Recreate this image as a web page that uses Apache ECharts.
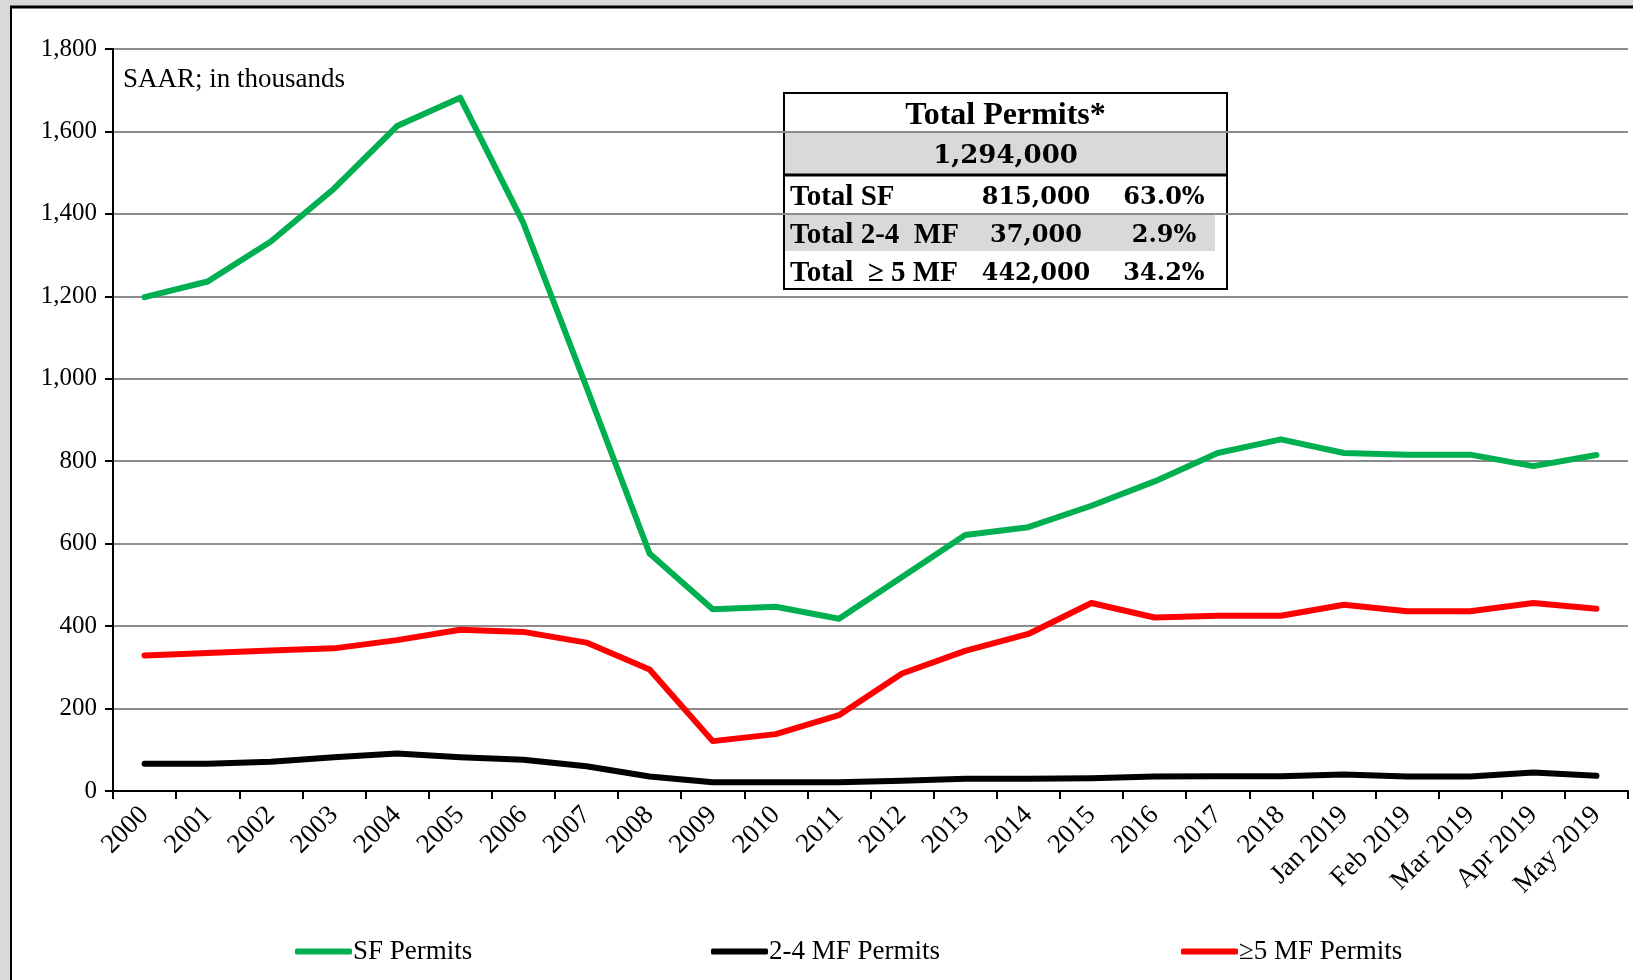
<!DOCTYPE html>
<html>
<head>
<meta charset="utf-8">
<script src="https://cdn.jsdelivr.net/npm/echarts@6/dist/echarts.min.js"></script>
<style>
html, body { margin: 0; padding: 0; background: #d9d9d9; }
#chart { width: 1633px; height: 980px; }
</style>
</head>
<body>
<div id="chart"></div>
<script>
// permits, SAAR, thousands
var categories = ['2000', '2001', '2002', '2003', '2004', '2005', '2006', '2007', '2008', '2009',
    '2010', '2011', '2012', '2013', '2014', '2015', '2016', '2017', '2018',
    'Jan 2019', 'Feb 2019', 'Mar 2019', 'Apr 2019', 'May 2019'];
var sfPermits = [1198, 1236, 1333, 1461, 1613, 1682, 1378, 980, 576, 441,
    447, 418, 519, 621, 640, 692, 751, 820, 853, 820, 816, 816, 788, 815];
var mf24Permits = [66, 66, 71, 82, 91, 82, 76, 60, 35, 21,
    21, 21, 25, 30, 30, 31, 35, 36, 36, 40, 35, 35, 45, 37];
var mf5Permits = [329, 335, 341, 346, 366, 391, 386, 360, 295, 121,
    138, 184, 285, 340, 381, 456, 421, 425, 425, 452, 436, 436, 456, 442];
var yMin = 0, yMax = 1800, yStep = 200;

var tableTitle = 'Total Permits*';
var tableTotal = '1,294,000';
var tableLabels = ['Total SF', 'Total 2-4  MF', 'Total  \u2265 5 MF'];
var tableCounts = ['815,000', '37,000', '442,000'];
var tableShares = ['63.0%', '2.9%', '34.2%'];

var serif = '"Liberation Serif", "Times New Roman", serif';
var wide = '"DejaVu Serif", serif';

var chart = echarts.init(document.getElementById('chart'));

function commas(v) {
    return String(v).replace(/\B(?=(\d{3})+(?!\d))/g, ',');
}

// table box drawn with graphic elements
var tx = 784, ty = 93, tw = 443;
var rowTop = [93, 132, 175, 213, 251, 289];
var tableEls = [];
tableEls.push({ type: 'rect', shape: { x: tx, y: ty, width: tw, height: 196 }, style: { fill: '#fff' } });
tableEls.push({ type: 'rect', shape: { x: tx, y: rowTop[1], width: tw, height: rowTop[2] - rowTop[1] }, style: { fill: '#d9d9d9' } });
tableEls.push({ type: 'rect', shape: { x: tx, y: rowTop[3], width: tw - 12, height: rowTop[4] - rowTop[3] }, style: { fill: '#d9d9d9' } });
tableEls.push({ type: 'rect', shape: { x: tx, y: ty, width: tw, height: 196 }, style: { fill: null, stroke: '#000', lineWidth: 2 } });
tableEls.push({ type: 'line', shape: { x1: tx, y1: rowTop[1], x2: tx + tw, y2: rowTop[1] }, style: { stroke: '#000', lineWidth: 2 } });
tableEls.push({ type: 'line', shape: { x1: tx, y1: rowTop[2], x2: tx + tw, y2: rowTop[2] }, style: { stroke: '#000', lineWidth: 3 } });
tableEls.push({ type: 'text', x: tx + tw / 2, y: 116, style: { text: tableTitle, font: 'bold 32px ' + serif, fill: '#000', align: 'center', verticalAlign: 'middle' } });
tableEls.push({ type: 'text', x: tx + tw / 2, y: 156, style: { text: tableTotal, font: 'bold 26px ' + wide, fill: '#000', align: 'center', verticalAlign: 'middle' } });
for (var i = 0; i < tableLabels.length; i++) {
    var cy = (rowTop[i + 2] + rowTop[i + 3]) / 2 + 4;
    tableEls.push({ type: 'text', x: 790, y: cy, style: { text: tableLabels[i], font: 'bold 29px ' + serif, fill: '#000', align: 'left', verticalAlign: 'middle' } });
    tableEls.push({ type: 'text', x: 1036, y: cy, style: { text: tableCounts[i], font: 'bold 24px ' + wide, fill: '#000', align: 'center', verticalAlign: 'middle' } });
    tableEls.push({ type: 'text', x: 1164, y: cy, style: { text: tableShares[i], font: 'bold 24px ' + wide, fill: '#000', align: 'center', verticalAlign: 'middle' } });
}

var option = {
    backgroundColor: '#fff',
    animation: false,
    textStyle: { fontFamily: serif, color: '#000' },
    grid: { left: 113, right: 5, top: 49, bottom: 189, containLabel: false },
    legend: [
        { data: ['SF Permits'], left: 290, top: 933 },
        { data: ['2-4 MF Permits'], left: 706, top: 933 },
        { data: ['\u22655 MF Permits'], left: 1176, top: 933 }
    ].map(function (l) {
        l.icon = 'roundRect';
        l.itemWidth = 57;
        l.itemHeight = 6;
        l.itemGap = 4;
        l.textStyle = { fontFamily: serif, fontSize: 27, color: '#000', padding: [0, 0, 0, -4] };
        return l;
    }),
    xAxis: {
        type: 'category',
        data: categories,
        boundaryGap: true,
        axisLine: { lineStyle: { color: '#000', width: 2 } },
        axisTick: { show: true, length: 8, lineStyle: { color: '#000', width: 2 } },
        axisLabel: { rotate: 45, margin: 20, fontSize: 27, fontFamily: serif, color: '#000', interval: 0 },
        splitLine: { show: false }
    },
    yAxis: {
        type: 'value',
        min: yMin, max: yMax, interval: yStep,
        axisLine: { show: true, lineStyle: { color: '#000', width: 2 } },
        axisTick: { show: true, length: 8, inside: false, lineStyle: { color: '#000', width: 2 } },
        axisLabel: { fontSize: 25, fontFamily: serif, color: '#000', margin: 16, formatter: commas },
        splitLine: { lineStyle: { color: '#8c8c8c', width: 2 } }
    },
    graphic: [
        { type: 'rect', shape: { x: 0, y: 0, width: 1633, height: 6 }, style: { fill: '#d9d9d9' }, z: 50 },
        { type: 'rect', shape: { x: 0, y: 0, width: 10, height: 980 }, style: { fill: '#d9d9d9' }, z: 50 },
        { type: 'line', shape: { x1: 10, y1: 7, x2: 1633, y2: 7 }, style: { stroke: '#000', lineWidth: 3 }, z: 51 },
        { type: 'line', shape: { x1: 11, y1: 7, x2: 11, y2: 980 }, style: { stroke: '#000', lineWidth: 2 }, z: 51 },
        { type: 'text', x: 123, y: 80, style: { text: 'SAAR; in thousands', font: '27px ' + serif, fill: '#000', verticalAlign: 'middle' }, z: 51 },
        { type: 'group', z: 100, children: tableEls }
    ],
    series: [
        { name: 'SF Permits', type: 'line', data: sfPermits, color: '#00b050' },
        { name: '2-4 MF Permits', type: 'line', data: mf24Permits, color: '#000000' },
        { name: '\u22655 MF Permits', type: 'line', data: mf5Permits, color: '#ff0000' }
    ].map(function (s) {
        s.symbol = 'none';
        s.lineStyle = { width: 6, cap: 'round', join: 'round' };
        return s;
    })
};

chart.setOption(option);
</script>
</body>
</html>
